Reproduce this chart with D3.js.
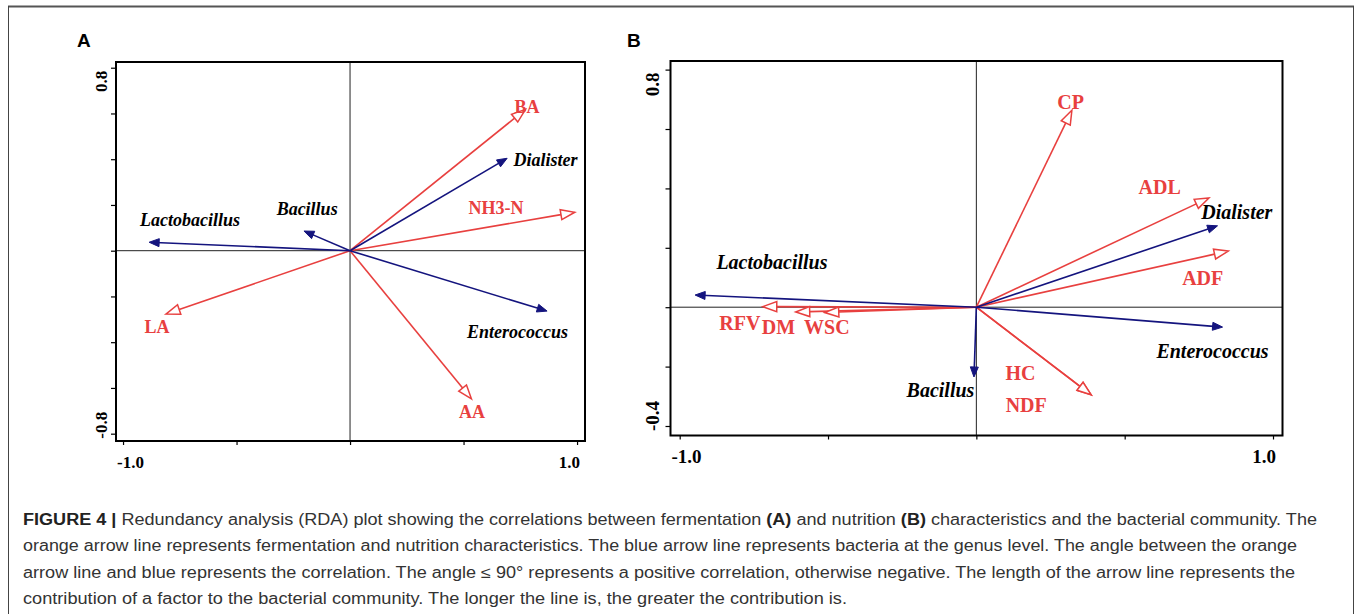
<!DOCTYPE html>
<html><head><meta charset="utf-8">
<script src="https://cdn.jsdelivr.net/npm/d3@7"></script>
<style>body{margin:0;background:#fff}svg{display:block}</style>
</head><body>
<svg id="c" width="1357" height="614"></svg>
<script>
// ---------- DATA ----------
const envA = ["BA","NH3-N","LA","AA"];
const envAx = [0.773, 0.990, -0.811, 0.535];
const envAy = [0.618, 0.168, -0.277, -0.648];
const envALabX = [0.780, 0.643, -0.850, 0.537];
const envALabY = [0.628, 0.188, -0.334, -0.704];

const genA = ["Dialister","Lactobacillus","Bacillus","Enterococcus"];
const genAx = [0.692, -0.885, -0.203, 0.868];
const genAy = [0.404, 0.037, 0.086, -0.264];
const genALabX = [0.861, -0.705, -0.189, 0.738];
const genALabY = [0.397, 0.134, 0.181, -0.354];

const envB = ["CP","ADL","ADF","RFV","DM","WSC","HC","NDF"];
const envBx = [0.322, 0.784, 0.849, -0.720, -0.609, -0.511, 0.387, 0.387];
const envBy = [0.663, 0.368, 0.189, 0.002, -0.016, -0.018, -0.295, -0.295];
const envBLabX = [0.318, 0.618, 0.763, -0.797, -0.667, -0.504, 0.149, 0.168];
const envBLabY = [0.691, 0.405, 0.097, -0.052, -0.067, -0.067, -0.222, -0.328];

const genB = ["Dialister","Lactobacillus","Enterococcus","Bacillus"];
const genBx = [0.813, -0.948, 0.830, -0.008];
const genBy = [0.274, 0.041, -0.067, -0.235];
const genBLabX = [0.878, -0.689, 0.796, -0.121];
const genBLabY = [0.321, 0.151, -0.147, -0.278];

const xTicks = [-1, -0.5, 0, 0.5, 1];
const yTicksA = [0.8, 0.6, 0.4, 0.2, 0, -0.2, -0.4, -0.6, -0.8];
const yTicksB = [0.8, 0.6, 0.4, 0.2, 0, -0.2, -0.4];
const xTickLabels = ["-1.0", "1.0"];
const yTickLabelsA = ["0.8", "-0.8"];
const yTickLabelsB = ["0.8", "-0.4"];

const captionLines = [
  [["FIGURE 4 | ",true],["Redundancy analysis (RDA) plot showing the correlations between fermentation ",false],["(A)",true],[" and nutrition ",false],["(B)",true],[" characteristics and the bacterial community. The",false]],
  [["orange arrow line represents fermentation and nutrition characteristics. The blue arrow line represents bacteria at the genus level. The angle between the orange",false]],
  [["arrow line and blue represents the correlation. The angle \u2264 90\u00b0 represents a positive correlation, otherwise negative. The length of the arrow line represents the",false]],
  [["contribution of a factor to the bacterial community. The longer the line is, the greater the contribution is.",false]]
];

// ---------- STYLE ----------
const RED = "#e8403f", BLUE = "#14147e";
const svg = d3.select("#c");

// outer frame
svg.append("line").attr("x1",8).attr("x2",1354).attr("y1",6.5).attr("y2",6.5).attr("stroke","#555").attr("stroke-width",2);
svg.append("line").attr("x1",8.5).attr("x2",8.5).attr("y1",6).attr("y2",614).attr("stroke","#444").attr("stroke-width",1);
svg.append("line").attr("x1",1353.5).attr("x2",1353.5).attr("y1",6).attr("y2",614).attr("stroke","#444").attr("stroke-width",1);

function panel(cfg){
  const g = svg.append("g");
  const x = d3.scaleLinear().domain(cfg.xd).range([cfg.x0, cfg.x1]);
  const y = d3.scaleLinear().domain(cfg.yd).range([cfg.y1, cfg.y0]);
  const fs = cfg.fs;
  // crosshair
  g.append("line").attr("x1",cfg.x0).attr("x2",cfg.x1).attr("y1",y(0)).attr("y2",y(0)).attr("stroke","#222").attr("stroke-width",1);
  g.append("line").attr("x1",x(0)).attr("x2",x(0)).attr("y1",cfg.y0).attr("y2",cfg.y1).attr("stroke","#222").attr("stroke-width",1);
  // axes ticks
  const ax = g.append("g").attr("transform",`translate(0,${cfg.y1})`)
    .call(d3.axisBottom(x).tickValues(xTicks).tickSize(4).tickFormat(""));
  const ay = g.append("g").attr("transform",`translate(${cfg.x0},0)`)
    .call(d3.axisLeft(y).tickValues(cfg.yTicks).tickSize(5).tickFormat(""));
  [ax,ay].forEach(a=>{a.select(".domain").remove(); a.selectAll("line").attr("stroke","#000").attr("stroke-width",1.2);});
  // box
  g.append("rect").attr("x",cfg.x0).attr("y",cfg.y0).attr("width",cfg.x1-cfg.x0).attr("height",cfg.y1-cfg.y0)
    .attr("fill","none").attr("stroke","#000").attr("stroke-width",2);
  // tick labels
  const tf = "'Liberation Serif','Times New Roman',serif";
  g.append("text").attr("x",cfg.x0+1).attr("y",cfg.y1+27).attr("text-anchor","start")
    .attr("font-family",tf).attr("font-weight","bold").attr("font-size",cfg.tfs).text(xTickLabels[0]);
  g.append("text").attr("x",x(1)+3).attr("y",cfg.y1+27).attr("text-anchor","end")
    .attr("font-family",tf).attr("font-weight","bold").attr("font-size",cfg.tfs).text(xTickLabels[1]);
  const yl = cfg.yLabels;
  g.append("text").attr("transform",`translate(${cfg.x0-cfg.ylOff},${y(cfg.yTicks[0])+3}) rotate(-90)`).attr("text-anchor","end")
    .attr("font-family",tf).attr("font-weight","bold").attr("font-size",cfg.tfs).text(yl[0]);
  g.append("text").attr("transform",`translate(${cfg.x0-cfg.ylOff},${y(cfg.yTicks[cfg.yTicks.length-1])+5}) rotate(-90)`).attr("text-anchor","start")
    .attr("font-family",tf).attr("font-weight","bold").attr("font-size",cfg.tfs).text(yl[1]);
  // panel letter
  g.append("text").attr("x",cfg.letterX).attr("y",47).attr("font-family","'Liberation Sans',Arial,sans-serif")
    .attr("font-weight","bold").attr("font-size",19).text(cfg.letter);

  function arrow(px,py,color,open){
    const x1=x(0), y1=y(0), x2=x(px), y2=y(py);
    const ang = Math.atan2(y2-y1,x2-x1);
    const L = open?14:10, W = open?5:4;
    g.append("line").attr("x1",x1).attr("y1",y1).attr("x2",x2-Math.cos(ang)*(open?L:L*0.6)).attr("y2",y2-Math.sin(ang)*(open?L:L*0.6))
      .attr("stroke",color).attr("stroke-width",1.6);
    const bx=x2-Math.cos(ang)*L, by=y2-Math.sin(ang)*L;
    const nx=-Math.sin(ang), ny=Math.cos(ang);
    const p=`M${x2},${y2}L${bx+nx*W},${by+ny*W}L${bx-nx*W},${by-ny*W}Z`;
    g.append("path").attr("d",p).attr("fill",open?"#fff":color).attr("stroke",color).attr("stroke-width",open?1.5:1).attr("stroke-linejoin","miter");
  }
  const sf = tf;
  cfg.env.forEach((n,i)=>arrow(cfg.envX[i],cfg.envY[i],RED,true));
  cfg.gen.forEach((n,i)=>arrow(cfg.genX[i],cfg.genY[i],BLUE,false));
  cfg.env.forEach((n,i)=>{
    g.append("text").attr("x",x(cfg.envLX[i])).attr("y",y(cfg.envLY[i])).attr("text-anchor","middle").attr("dominant-baseline","central")
      .attr("font-family",sf).attr("font-weight","bold").attr("font-size",fs).attr("fill",RED).text(n);
  });
  cfg.gen.forEach((n,i)=>{
    g.append("text").attr("x",x(cfg.genLX[i])).attr("y",y(cfg.genLY[i])).attr("text-anchor","middle").attr("dominant-baseline","central")
      .attr("font-family",sf).attr("font-weight","bold").attr("font-style","italic").attr("font-size",fs).attr("fill","#000").text(n);
  });
}

panel({x0:116,x1:585,y0:62,y1:441,xd:[-1.031,1.035],yd:[-0.832,0.825],yTicks:yTicksA,yLabels:yTickLabelsA,
  fs:18,tfs:17,ylOff:9,letter:"A",letterX:77,
  env:envA,envX:envAx,envY:envAy,envLX:envALabX,envLY:envALabY,
  gen:genA,genX:genAx,genY:genAy,genLX:genALabX,genLY:genALabY});
panel({x0:670.5,x1:1282.5,y0:61,y1:435.5,xd:[-1.031,1.032],yd:[-0.432,0.829],yTicks:yTicksB,yLabels:yTickLabelsB,
  fs:20,tfs:19,ylOff:12,letter:"B",letterX:627,
  env:envB,envX:envBx,envY:envBy,envLX:envBLabX,envLY:envBLabY,
  gen:genB,genX:genBx,genY:genBy,genLX:genBLabX,genLY:genBLabY});

// caption
const capW = [1294, 1274, 1272, 824];
const capY = [525, 551, 578, 604];
captionLines.forEach((parts,i)=>{
  const t = svg.append("text").attr("x",23).attr("y",capY[i]).attr("font-family","'Liberation Sans',Arial,sans-serif")
    .attr("font-size",16).attr("fill","#333").attr("textLength",capW[i]).attr("lengthAdjust","spacingAndGlyphs");
  parts.forEach(p=>{
    t.append("tspan").attr("font-weight",p[1]?"bold":"normal").attr("fill",p[1]?"#222":"#333").text(p[0]);
  });
});
</script>
</body></html>
